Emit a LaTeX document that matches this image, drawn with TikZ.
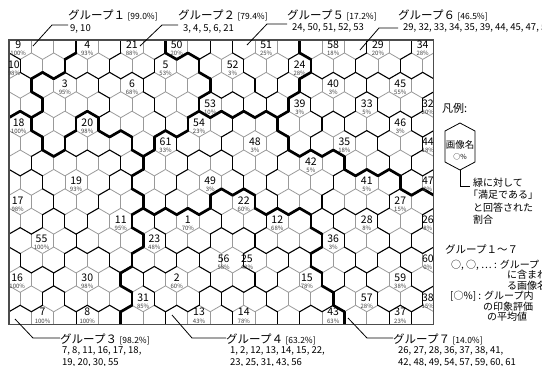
\documentclass[tikz,border=0pt]{standalone}
\usepackage{fontspec}
\setmainfont{Noto Sans CJK JP}
\usetikzlibrary{calc}

\makeatletter
\newcount\hxrow \newcount\hxci \newcount\hxd \newcount\hxbest
% group of every hexagon, one digit per cell, row by row
\def\hxsetrow#1{\hxci=\ifodd\hxrow 0\else 1\fi\relax\hx@setrow#1\relax}
\def\hx@setrow#1{\ifx#1\relax\else
  \expandafter\xdef\csname hxg@\the\hxrow @\the\hxci\endcsname{#1}%
  \advance\hxci 2\relax\expandafter\hx@setrow\fi}
\hxrow=0 \hxsetrow{1112222555555666666}
\hxrow=1 \hxsetrow{11122222255555666666}
\hxrow=2 \hxsetrow{1222222225555666666}
\hxrow=3 \hxsetrow{11222222255556666666}
\hxrow=4 \hxsetrow{3223222277776666666}
\hxrow=5 \hxsetrow{33233327777776666666}
\hxrow=6 \hxsetrow{3333337777777776666}
\hxrow=7 \hxsetrow{33333377777777777766}
\hxrow=8 \hxsetrow{3333337774477777777}
\hxrow=9 \hxsetrow{33333344444444777777}
\hxrow=10 \hxsetrow{3333334444444477777}
\hxrow=11 \hxsetrow{33333344444444777777}
\hxrow=12 \hxsetrow{3333344444444477777}
\hxrow=13 \hxsetrow{33333344444444477777}
\hxrow=14 \hxsetrow{3333344444444447777}

% image name / percent / row / cell / x offset
\def\hxlabels{%
  \hxlab{9}{100}{0}{1}{-2}\hxlab{4}{93}{0}{7}{0}\hxlab{21}{88}{0}{11}{0}\hxlab{50}{20}{0}{15}{0}%
  \hxlab{51}{25}{0}{23}{0}\hxlab{58}{18}{0}{29}{0}\hxlab{29}{20}{0}{33}{0}\hxlab{34}{28}{0}{37}{0}%
  \hxlab{10}{98}{1}{0}{5}\hxlab{5}{53}{1}{14}{0}\hxlab{52}{3}{1}{20}{0}\hxlab{24}{28}{1}{26}{0}%
  \hxlab{3}{95}{2}{5}{0}\hxlab{6}{68}{2}{11}{0}\hxlab{40}{3}{2}{29}{0}\hxlab{45}{55}{2}{35}{0}%
  \hxlab{53}{10}{3}{18}{0}\hxlab{39}{3}{3}{26}{0}\hxlab{33}{5}{3}{32}{0}\hxlab{32}{20}{3}{38}{-6}%
  \hxlab{18}{100}{4}{1}{-1.5}\hxlab{20}{98}{4}{7}{0}\hxlab{54}{23}{4}{17}{0}\hxlab{46}{3}{4}{35}{0}%
  \hxlab{61}{33}{5}{14}{0}\hxlab{48}{3}{5}{22}{0}\hxlab{35}{18}{5}{30}{0}\hxlab{44}{18}{5}{38}{-6}%
  \hxlab{42}{5}{6}{27}{0}%
  \hxlab{19}{93}{7}{6}{0}\hxlab{49}{3}{7}{18}{0}\hxlab{41}{5}{7}{32}{0}\hxlab{47}{0}{7}{38}{-6}%
  \hxlab{17}{98}{8}{1}{-2.5}\hxlab{22}{60}{8}{21}{0}\hxlab{27}{15}{8}{35}{0}%
  \hxlab{11}{95}{9}{10}{0}\hxlab{1}{70}{9}{16}{0}\hxlab{12}{68}{9}{24}{0}\hxlab{28}{8}{9}{32}{0}%
  \hxlab{26}{8}{9}{38}{-6}%
  \hxlab{55}{100}{10}{3}{-1}\hxlab{23}{48}{10}{13}{0}\hxlab{36}{3}{10}{29}{0}%
  \hxlab{56}{58}{11}{20}{-9}\hxlab{25}{48}{11}{22}{-8}\hxlab{60}{0}{11}{38}{-6}%
  \hxlab{16}{100}{12}{1}{-3}\hxlab{30}{98}{12}{7}{0}\hxlab{2}{60}{12}{15}{0}\hxlab{15}{78}{12}{27}{-4}%
  \hxlab{59}{38}{12}{35}{0}%
  \hxlab{31}{85}{13}{12}{0}\hxlab{57}{28}{13}{32}{0}\hxlab{38}{15}{13}{38}{-6}%
  \hxlab{7}{100}{14}{3}{0}\hxlab{8}{100}{14}{7}{0}\hxlab{13}{43}{14}{17}{0}\hxlab{14}{78}{14}{21}{0}%
  \hxlab{43}{63}{14}{29}{0}\hxlab{37}{23}{14}{35}{0}}

% each cell goes to the nearest image of its own group
\def\hx@reglab#1#2#3#4#5{%
  \ifnum\csname hxg@#3@#4\endcsname=\hx@cg\relax
    \global\hxd=\numexpr 3*(\hx@c-(#4))*(\hx@c-(#4))+9*(\hx@r-(#3))*(\hx@r-(#3))\relax
    \ifnum\hxd<\hxbest \global\hxbest=\hxd \xdef\hx@best{#1}\fi
  \fi}
\def\hxregion#1#2{%
  \xdef\hx@r{#1}\xdef\hx@c{#2}%
  \xdef\hx@cg{\csname hxg@#1@#2\endcsname}%
  \global\hxbest=100000 \gdef\hx@best{0}%
  \let\hxlab\hx@reglab
  \hxlabels
  \expandafter\xdef\csname hxr@#1@#2\endcsname{\hx@best}}

% 0 same image, 1 other image, 2 other group
\def\hxtype#1#2#3#4{%
  \ifnum\csname hxg@#1@#2\endcsname=\csname hxg@#3@#4\endcsname\relax
    \ifnum\csname hxr@#1@#2\endcsname=\csname hxr@#3@#4\endcsname\relax
      \gdef\hxt{0}\else\gdef\hxt{1}\fi
  \else\gdef\hxt{2}\fi}

\newcommand\hxregions{%
  \foreach \rr in {0,...,14}{\foreach \kk in {0,...,19}{%
    \edef\cc{\the\numexpr 2*\kk+1-\ifodd\numexpr\rr\relax 1\else 0\fi\relax}%
    \ifcsname hxg@\rr @\cc\endcsname\hxregion{\rr}{\cc}\fi}}}

% pass #1: 0 grey lines, 1 black lines, 2 group borders
\newcommand\hxedges[1]{%
  \foreach \rr in {0,...,14}{\foreach \kk in {0,...,19}{%
    \edef\cc{\the\numexpr 2*\kk+1-\ifodd\numexpr\rr\relax 1\else 0\fi\relax}%
    \ifcsname hxg@\rr @\cc\endcsname
      \edef\jc{\the\numexpr 1+3*\rr\relax}%
      \edef\rn{\the\numexpr \rr+1\relax}%
      \edef\cnext{\the\numexpr \cc+2\relax}%
      \edef\cplus{\the\numexpr \cc+1\relax}%
      \edef\cminus{\the\numexpr \cc-1\relax}%
      \ifcsname hxg@\rr @\cnext\endcsname
        \hxtype{\rr}{\cc}{\rr}{\cnext}%
        \ifnum\hxt=#1\relax \draw[hexedge] (\cplus,\jc-1) -- (\cplus,\jc+1);\fi
      \fi
      \ifcsname hxg@\rn @\cplus\endcsname
        \hxtype{\rr}{\cc}{\rn}{\cplus}%
        \ifnum\hxt=#1\relax \draw[hexedge] (\cplus,\jc+1) -- (\cc,\jc+2);\fi
      \fi
      \ifcsname hxg@\rn @\cminus\endcsname
        \hxtype{\rr}{\cc}{\rn}{\cminus}%
        \ifnum\hxt=#1\relax \draw[hexedge] (\cc,\jc+2) -- (\cminus,\jc+1);\fi
      \fi
    \fi}}}
\makeatother

\begin{document}
\begin{tikzpicture}[x=1pt, y=-1pt,
    frame/.style={draw=black!70, line width=1.3pt},
    hexgray/.style={draw=black!40, line width=0.8pt},
    hexblack/.style={draw=black, line width=1.1pt, line cap=round},
    hexthick/.style={draw=black, line width=2.7pt, line cap=round},
    num/.style={font=\fontsize{10.5}{11}\selectfont, inner sep=0pt, anchor=base},
    pct/.style={font=\fontsize{6}{6}\selectfont, text=black!75, inner sep=0pt, anchor=base},
    title/.style={font=\fontsize{11.5}{12}\selectfont, inner sep=0pt, anchor=west},
    members/.style={font=\fontsize{9.5}{10}\selectfont, inner sep=0pt, anchor=west},
    leader/.style={draw=black, line width=0.8pt},
    legend/.style={font=\fontsize{10}{11}\selectfont, inner sep=0pt, anchor=west}
]
\useasboundingbox (0,0) rectangle (542,365);
\hxregions

% hexagon map
\begin{scope}[shift={(9,40)}, x=11.18pt, y=-6.47pt]
  \begin{scope}
    \clip (0,0) rectangle (38,44);
    \begin{scope}[hexedge/.style={hexgray}]\hxedges{0}\end{scope}
    \begin{scope}[hexedge/.style={hexblack}]\hxedges{1}\end{scope}
    \begin{scope}[hexedge/.style={hexthick}]\hxedges{2}\end{scope}
  \end{scope}
  \draw[frame] (0,0) rectangle (38,44);
  \def\hxlab#1#2#3#4#5{%
    \ifnum#3=14 \def\hxyn{2.4}\def\hxyp{-4.8}\else\def\hxyn{-2.3}\def\hxyp{-9.3}\fi
    \node[num, xshift=#5pt, yshift=\hxyn pt] (n#1) at (#4,1+3*#3) {#1};
    \node[pct, xshift=#5pt, yshift=\hxyp pt] (p#1) at (#4,1+3*#3) {#2\%};}
  \hxlabels
\end{scope}

% groups above the map
\node[title] (t1) at (68,15) {グループ１ {\fontsize{8.5}{9}\selectfont[99.0\%]}};
\node[members] (m1) at (70,29) {9, 10};
\node[title] (t2) at (178,15) {グループ２ {\fontsize{8.5}{9}\selectfont[79.4\%]}};
\node[members] (m2) at (183,29) {3, 4, 5, 6, 21};
\node[title] (t5) at (287,15) {グループ５ {\fontsize{8.5}{9}\selectfont[17.2\%]}};
\node[members] (m5) at (292,28) {24, 50, 51, 52, 53};
\node[title] (t6) at (398,15) {グループ６ {\fontsize{8.5}{9}\selectfont[46.5\%]}};
\node[members] (m6) at (403,28) {29, 32, 33, 34, 35, 39, 44, 45, 47, 58};

\coordinate (e1) at (33,46);  \coordinate (k1) at (52,25);
\coordinate (e2) at (140,46); \coordinate (k2) at (162,25);
\coordinate (e5) at (247,45); \coordinate (k5) at (267,24);
\coordinate (e6) at (360,50); \coordinate (k6) at (379,28);
\draw[leader] (e1) -- (k1) -- (k1 -| t1.west);
\draw[leader] (e2) -- (k2) -- (k2 -| t2.west);
\draw[leader] (e5) -- (k5) -- (k5 -| t5.west);
\draw[leader] (e6) -- (k6) -- (k6 -| t6.west);

% groups below the map
\node[title] (t3) at (60,339) {グループ３ {\fontsize{8.5}{9}\selectfont[98.2\%]}};
\node[members] (m3) at (62,351) {7, 8, 11, 16, 17, 18,};
\node[members] (m3b) at (62,363) {19, 20, 30, 55};
\node[title] (t4) at (226,339) {グループ４ {\fontsize{8.5}{9}\selectfont[63.2\%]}};
\node[members] (m4) at (230,351) {1, 2, 12, 13, 14, 15, 22,};
\node[members] (m4b) at (230,363) {23, 25, 31, 43, 56};
\node[title] (t7) at (393,339) {グループ７ {\fontsize{8.5}{9}\selectfont[14.0\%]}};
\node[members] (m7) at (398,351) {26, 27, 28, 36, 37, 38, 41,};
\node[members] (m7b) at (398,363) {42, 48, 49, 54, 57, 59, 60, 61};

\coordinate (e3) at (15,319);  \coordinate (k3) at (33,338);
\coordinate (e4) at (172,315); \coordinate (k4) at (192,338);
\coordinate (e7) at (348,318); \coordinate (k7) at (367,338);
\draw[leader] (e3) -- (k3) -- (k3 -| t3.west);
\draw[leader] (e4) -- (k4) -- (k4 -| t4.west);
\draw[leader] (e7) -- (k7) -- (k7 -| t7.west);

% legend
\node[legend, font=\fontsize{11}{12}\selectfont] (legtitle) at (442,108) {凡例:};
\draw[line width=0.8pt] (460,123) -- (475,131) -- (475,162) -- (460,170) -- (445,162) -- (445,131) -- cycle;
\node[font=\fontsize{9.5}{10}\selectfont, inner sep=0pt] (legname) at (460,145) {画像名};
\node[font=\fontsize{7}{7}\selectfont, inner sep=0pt] (legpct) at (460,157) {○\%};
\coordinate (legbot) at (460,170);
\node[legend, align=left, anchor=north west, font=\fontsize{10}{12.3}\selectfont] (legdesc) at (473,178)
  {緑に対して\\\hspace*{-0.5em}「満足である」\\と回答された\\割合};
\draw[leader] (legbot) |- ($(legdesc.north west)+(-3,8)$);

\node[legend, font=\fontsize{10.5}{11}\selectfont] (lg1) at (445,249) {グループ１～７};
\node[legend] (lg2) at (451,265) {○, ○, … : グループ};
\node[legend] (lg3) at (507,275) {に含まれ};
\node[legend] (lg4) at (507,286) {る画像名};
\node[legend] (lg5) at (450,296) {[○\%] : グループ内};
\node[legend] (lg6) at (483,307) {の印象評価};
\node[legend] (lg7) at (487,317) {の平均値};
\end{tikzpicture}
\end{document}
